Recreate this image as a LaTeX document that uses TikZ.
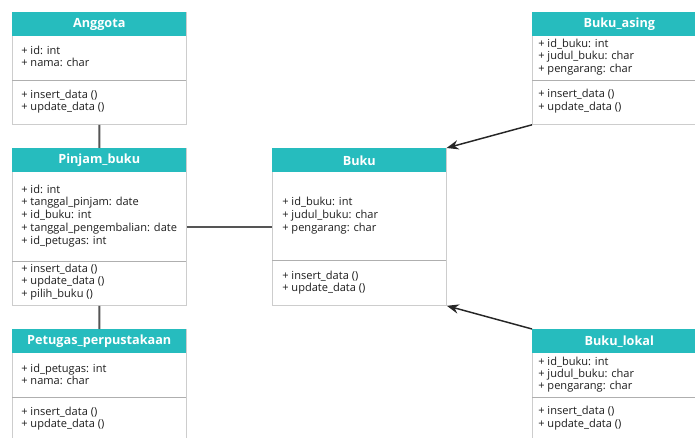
\documentclass[tikz,border=0pt]{standalone}
\usepackage{fontspec}
\setmainfont{Open Sans}
\usetikzlibrary{arrows.meta}
\definecolor{teal1}{RGB}{38,188,190}
\definecolor{bordergray}{RGB}{205,205,205}
\definecolor{divgray}{RGB}{175,175,175}
\definecolor{txtgray}{RGB}{30,30,30}
\definecolor{linkgray}{RGB}{85,85,85}
\begin{document}
\begin{tikzpicture}[x=0.75pt,y=-0.75pt,
 umlbox/.style={draw=bordergray, line width=0.6pt, fill=white, anchor=north west, inner sep=0, minimum width=130.5pt},
 hdr/.style={fill=teal1, anchor=north west, inner sep=0, minimum width=130.5pt, minimum height=18pt, text=white, font=\fontsize{9.5}{11}\selectfont\bfseries},
 txt/.style={anchor=west, inner sep=0, text=txtgray, font=\fontsize{8.3}{9}\selectfont, text height=6.3pt, text depth=0.5pt},
 divline/.style={draw=divgray, line width=0.6pt},
 link/.style={draw=linkgray, line width=1.5pt},
 inherit/.style={draw=black!85, line width=1.1pt, -{Stealth[length=9pt,width=7pt]}}]
\useasboundingbox (0,0) rectangle (695,438);

% ---------- Anggota ----------
\node[umlbox, minimum height=84pt] (anggota) at (12,12) {};
\node[hdr] (anggota-h) at (12,12) {Anggota};
\draw[divline] (12,80) -- (186,80);
\node[txt] (ang-1) at (21,51) {+ id: int};
\node[txt] (ang-2) at (21,63) {+ nama: char};
\node[txt] (ang-3) at (21,95) {+ insert\_data ()};
\node[txt] (ang-4) at (21,107) {+ update\_data ()};

% ---------- Pinjam_buku ----------
\node[umlbox, minimum height=117.75pt] (pinjam) at (12,148) {};
\node[hdr] (pinjam-h) at (12,148) {Pinjam\_buku};
\draw[divline] (12,261) -- (186,261);
\node[txt] (pin-1) at (21,190) {+ id: int};
\node[txt] (pin-2) at (21,202) {+ tanggal\_pinjam: date};
\node[txt] (pin-3) at (21,215) {+ id\_buku: int};
\node[txt] (pin-4) at (21,228) {+ tanggal\_pengembalian: date};
\node[txt] (pin-5) at (21,241) {+ id\_petugas: int};
\node[txt] (pin-6) at (21,269) {+ insert\_data ()};
\node[txt] (pin-7) at (21,281) {+ update\_data ()};
\node[txt] (pin-8) at (21,294) {+ pilih\_buku ()};

% ---------- Petugas_perpustakaan ----------
\node[umlbox, minimum height=90.75pt] (petugas) at (12,329) {};
\node[hdr] (petugas-h) at (12,329) {Petugas\_perpustakaan};
\draw[divline] (12,397) -- (186,397);
\node[txt] (pet-1) at (21,369) {+ id\_petugas: int};
\node[txt] (pet-2) at (21,381) {+ nama: char};
\node[txt] (pet-3) at (21,412) {+ insert\_data ()};
\node[txt] (pet-4) at (21,424) {+ update\_data ()};

% ---------- Buku ----------
\node[umlbox, minimum height=117.75pt] (buku) at (272,148) {};
\node[hdr] (buku-h) at (272,148) {Buku};
\draw[divline] (272,260) -- (446,260);
\node[txt] (buk-1) at (282,202) {+ id\_buku: int};
\node[txt] (buk-2) at (282,215) {+ judul\_buku: char};
\node[txt] (buk-3) at (282,228) {+ pengarang: char};
\node[txt] (buk-4) at (282,276) {+ insert\_data ()};
\node[txt] (buk-5) at (282,288) {+ update\_data ()};

% ---------- Buku_asing ----------
\node[umlbox, minimum height=84pt] (asing) at (532,12) {};
\node[hdr] (asing-h) at (532,12) {Buku\_asing};
\draw[divline] (532,80) -- (706,80);
\node[txt] (asi-1) at (538,44) {+ id\_buku: int};
\node[txt] (asi-2) at (538,56) {+ judul\_buku: char};
\node[txt] (asi-3) at (538,69) {+ pengarang: char};
\node[txt] (asi-4) at (538,94) {+ insert\_data ()};
\node[txt] (asi-5) at (538,107) {+ update\_data ()};

% ---------- Buku_lokal ----------
\node[umlbox, minimum height=90.75pt] (lokal) at (532,329) {};
\node[hdr] (lokal-h) at (532,329) {Buku\_lokal};
\draw[divline] (532,397) -- (706,397);
\node[txt] (lok-1) at (538,362) {+ id\_buku: int};
\node[txt] (lok-2) at (538,374) {+ judul\_buku: char};
\node[txt] (lok-3) at (538,386) {+ pengarang: char};
\node[txt] (lok-4) at (538,411) {+ insert\_data ()};
\node[txt] (lok-5) at (538,424) {+ update\_data ()};

% ---------- connectors ----------
\draw[link] (anggota.south) -- (pinjam-h.north);
\draw[link] (pinjam.south) -- (petugas-h.north);
\draw[link] (pinjam.east) -- (buku.west);
\draw[inherit] (asing.south west) -- (buku-h.north east);
\draw[inherit] (lokal-h.north west) -- (buku.south east);
\end{tikzpicture}
\end{document}
